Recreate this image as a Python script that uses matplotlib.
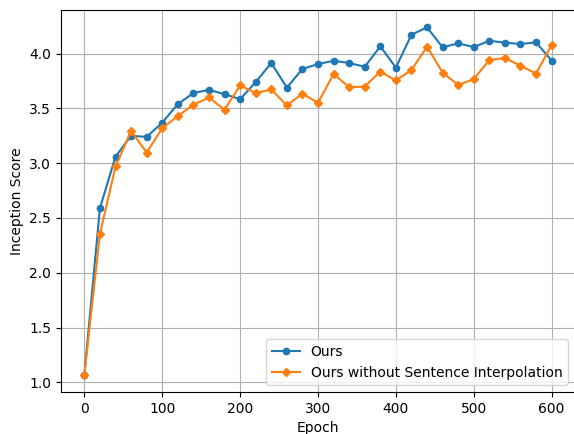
import matplotlib
matplotlib.use("Agg")
import matplotlib.pyplot as plt

epochs = list(range(0, 601, 20))

# Inception score
ours = [1.07, 2.59, 3.06, 3.25, 3.24, 3.37, 3.54, 3.64, 3.67, 3.63,
        3.585, 3.74, 3.915, 3.69, 3.86, 3.905, 3.935, 3.915, 3.88, 4.067,
        3.873, 4.173, 4.24, 4.058, 4.094, 4.06, 4.118, 4.10, 4.088, 4.103,
        3.936]
ours_no_interp = [1.07, 2.355, 2.97, 3.294, 3.097, 3.32, 3.43, 3.533, 3.60, 3.488,
                  3.71, 3.64, 3.673, 3.527, 3.635, 3.55, 3.815, 3.694, 3.70, 3.836,
                  3.755, 3.85, 4.064, 3.827, 3.715, 3.767, 3.942, 3.96, 3.89, 3.818,
                  4.079]

fig = plt.figure(figsize=(5.74, 4.34), dpi=100)
ax = fig.add_axes([61 / 574, 42 / 434, 514 / 574, 382 / 434])

ax.plot(epochs, ours, marker='o', markersize=4.5, label='Ours')
ax.plot(epochs, ours_no_interp, marker='D', markersize=4.5,
        label='Ours without Sentence Interpolation')

ax.set_xlabel('Epoch')
ax.set_ylabel('Inception Score')
ax.grid(True)
ax.legend(loc='lower right')

fig.savefig('out.png', dpi=100)
